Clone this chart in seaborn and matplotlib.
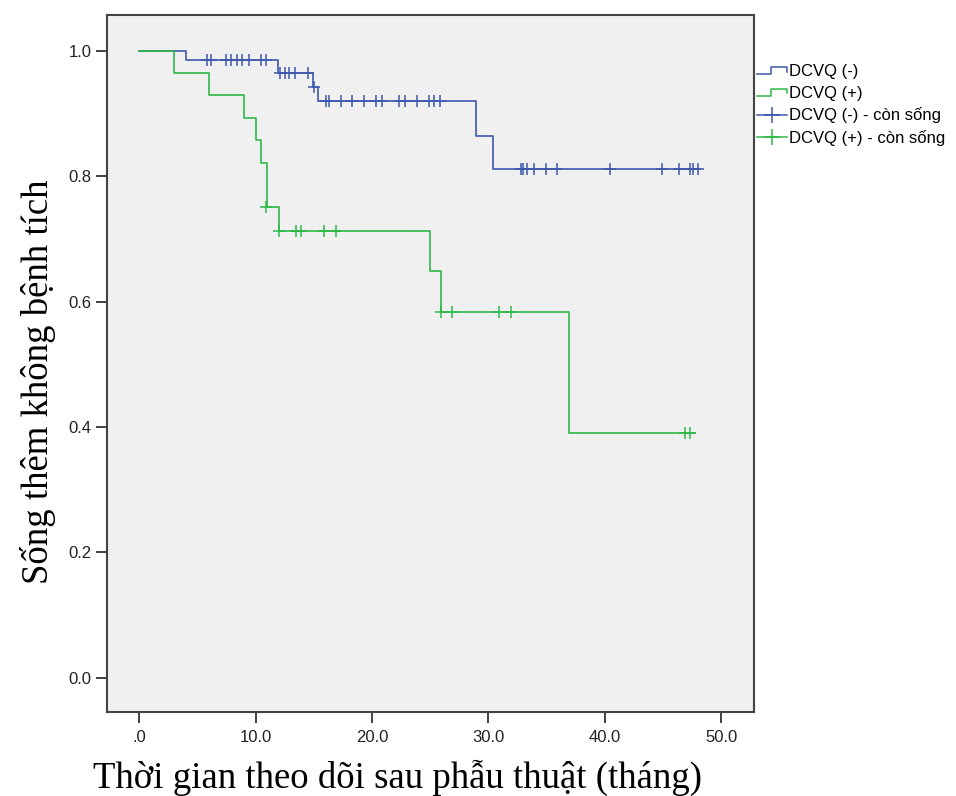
import numpy as np
import pandas as pd
import seaborn as sns
import matplotlib
matplotlib.use("Agg")
from matplotlib import pyplot as plt
from matplotlib.lines import Line2D
from matplotlib.legend_handler import HandlerBase

# Kaplan-Meier: DCVQ (-) = blue, DCVQ (+) = green
neg_times = [0.0, 4.0, 11.9, 14.9, 15.4, 28.9, 30.4, 48.2]
neg_surv = [1.0, 0.986, 0.965, 0.943, 0.920, 0.865, 0.812, 0.812]
neg_cens_t = [5.8, 6.2, 7.5, 7.9, 8.4, 8.8, 9.4, 10.5, 10.9,
              12.1, 12.5, 12.9, 13.4, 14.5,
              15.0,
              16.05, 16.35, 17.3, 18.3, 19.35, 20.35, 20.9, 22.35, 22.8,
              23.9, 24.9, 25.35, 25.8,
              32.8, 33.0, 33.3, 33.9, 34.9, 35.9, 40.4, 44.9, 46.4, 47.3, 47.6, 48.0]
neg_cens_s = [0.986] * 9 + [0.965] * 5 + [0.943] + [0.920] * 13 + [0.812] * 12

pos_times = [0.0, 3.0, 6.0, 9.0, 10.0, 10.45, 11.0, 12.0, 25.0, 25.9, 36.9, 47.7]
pos_surv = [1.0, 0.965, 0.930, 0.893, 0.858, 0.822, 0.751, 0.713, 0.649, 0.583, 0.390, 0.390]
pos_cens_t = [10.9, 12.0, 13.5, 13.9, 15.9, 16.9, 25.9, 26.9, 30.9, 31.9, 46.9, 47.3]
pos_cens_s = [0.751] + [0.713] * 5 + [0.583] * 4 + [0.390] * 2

labels = ['DCVQ (-)', 'DCVQ (+)', 'DCVQ (-) - còn sống', 'DCVQ (+) - còn sống']
blue = '#3E58AC'
green = '#2EB848'

curves = pd.concat([
    pd.DataFrame({'t': neg_times, 's': neg_surv, 'g': labels[0]}),
    pd.DataFrame({'t': pos_times, 's': pos_surv, 'g': labels[1]}),
])
cens = pd.concat([
    pd.DataFrame({'t': neg_cens_t, 's': neg_cens_s, 'g': labels[0]}),
    pd.DataFrame({'t': pos_cens_t, 's': pos_cens_s, 'g': labels[1]}),
])


class StepHandler(HandlerBase):
    def create_artists(self, legend, orig_handle, xdescent, ydescent,
                       width, height, fontsize, trans):
        x0 = -xdescent
        y0 = -ydescent
        xs = [x0, x0 + 0.45 * width, x0 + 0.45 * width, x0 + width, x0 + width]
        ys = [y0 + 0.2 * height, y0 + 0.2 * height, y0 + 0.8 * height,
              y0 + 0.8 * height, y0 + 0.4 * height]
        ln = Line2D(xs, ys, color=orig_handle.get_color(), lw=1.1)
        ln.set_transform(trans)
        return [ln]


fig = plt.figure(figsize=(9.56, 7.96), dpi=100)
ax = fig.add_axes([0.1116, 0.1055, 0.6771, 0.8757])
ax.set_facecolor('#F0F0F0')

pal = {labels[0]: blue, labels[1]: green}
for g, d in curves.groupby('g', sort=False):
    sns.lineplot(x=d['t'].values, y=d['s'].values, color=pal[g], drawstyle='steps-post',
                 lw=1.2, ax=ax, estimator=None, sort=False)
for g, d in cens.groupby('g', sort=False):
    ax.plot(d['t'].values, d['s'].values, linestyle='none', marker='+', markersize=9,
            mew=1.1, color=pal[g])

ax.set_xlim(-2.78, 52.8)
ax.set_ylim(-0.0547, 1.0575)
ax.set_xticks([0, 10, 20, 30, 40, 50])
ax.set_xticklabels(['.0', '10.0', '20.0', '30.0', '40.0', '50.0'])
ax.set_yticks([0, 0.2, 0.4, 0.6, 0.8, 1.0])
ax.set_yticklabels(['0.0', '0.2', '0.4', '0.6', '0.8', '1.0'])
for lab in ax.get_xticklabels() + ax.get_yticklabels():
    lab.set_family('Liberation Sans')
    lab.set_fontsize(12)
    lab.set_color('#222222')
ax.tick_params(direction='out', length=8, width=1.3, color='#333333', pad=3)
ax.tick_params(axis='x', pad=5)
for sp in ax.spines.values():
    sp.set_color('#444444')
    sp.set_linewidth(1.5)

ax.set_xlabel('Thời gian theo dõi sau phẫu thuật (tháng)', family='Liberation Serif',
              fontsize=26.5)
ax.set_ylabel('Sống thêm không bệnh tích', family='Liberation Serif',
              fontsize=26.5)
ax.xaxis.set_label_coords(0.4485, -0.069)
ax.yaxis.set_label_coords(-0.079, 0.4735)

h1 = Line2D([], [], color=blue)
h2 = Line2D([], [], color=green)
h3 = Line2D([], [], color=blue, marker='+', markersize=11, mew=1.1, lw=1.1)
h4 = Line2D([], [], color=green, marker='+', markersize=11, mew=1.1, lw=1.1)
leg = fig.legend([h1, h2, h3, h4], labels, loc='upper left',
                 bbox_to_anchor=(0.792, 0.919), frameon=False,
                 prop={'family': 'Liberation Sans', 'size': 12},
                 handlelength=1.8, handletextpad=0.1, labelspacing=0.39,
                 borderaxespad=0, borderpad=0,
                 handler_map={h1: StepHandler(), h2: StepHandler()})

fig.savefig('out.png', dpi=100)
